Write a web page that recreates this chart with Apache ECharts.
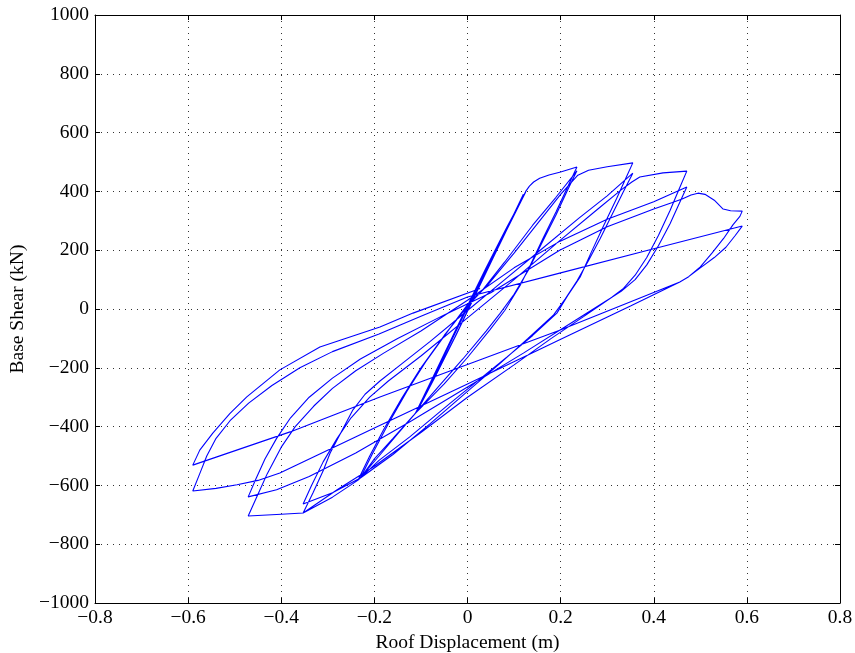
<!DOCTYPE html>
<html>
<head>
<meta charset="utf-8">
<script src="https://cdn.jsdelivr.net/npm/echarts@6/dist/echarts.min.js"></script>
<style>
html,body{margin:0;padding:0;background:#fff;}
#chart{width:855px;height:653px;}
</style>
</head>
<body>
<div id="chart"></div>
<script>
// Axis ticks
const xTicks = [-0.8, -0.6, -0.4, -0.2, 0, 0.2, 0.4, 0.6, 0.8];
const yTicks = [-1000, -800, -600, -400, -200, 0, 200, 400, 600, 800, 1000];

// Hysteresis path branches [roof displacement (m), base shear (kN)]
const initialLoading = [[0,0],[0.04,125],[0.08,255],[0.12,390]];
const smallCycles = [[0.07,225],[0.02,60],[-0.03,-105],[-0.07,-230],[-0.112,-355],
  [-0.06,-185],[-0.01,-20],[0.04,140],[0.085,280],[0.125,398],
  [0.075,240],[0.025,75],[-0.025,-90],[-0.07,-232],[-0.108,-348],
  [-0.055,-175],[0,5],[0.05,165],[0.09,290],[0.125,400]];
const envelope1 = [[0.133,418],[0.142,432],[0.155,445],[0.175,456],[0.2,466],[0.235,483]];
const lvl2c1Down = [[0.215,415],[0.19,330],[0.162,240],[0.135,150],[0.113,80],[0.08,-5],[0.048,-71],[0,-165],[-0.05,-255],[-0.112,-355],[-0.15,-425],[-0.19,-500],[-0.235,-582]];
const lvl2c1Up = [[-0.21,-500],[-0.18,-410],[-0.14,-300],[-0.1,-200],[-0.05,-90],[0,10],[0.03,60],[0.08,160],[0.14,285],[0.19,380],[0.235,470]];
const lvl2c2Down = [[0.215,405],[0.19,320],[0.16,225],[0.13,130],[0.1,50],[0.07,-15],[0.04,-75],[-0.01,-170],[-0.06,-260],[-0.115,-360],[-0.16,-440],[-0.2,-510],[-0.23,-575]];
const lvl2c2Up = [[-0.205,-495],[-0.17,-390],[-0.13,-280],[-0.09,-180],[-0.04,-70],[0,15],[0.04,75],[0.1,190],[0.16,310],[0.2,390],[0.237,455],[0.26,472],[0.3,484],[0.355,497]];
const lvl3c1Down = [[0.34,445],[0.32,375],[0.291,279],[0.265,190],[0.242,109],[0.215,45],[0.192,-14],[0.14,-90],[0.085,-163],[0.025,-240],[-0.037,-320],[-0.124,-435],[-0.19,-515],[-0.235,-582],[-0.29,-640],[-0.353,-694]];
const lvl3c1Up = [[-0.332,-626],[-0.31,-550],[-0.295,-490],[-0.27,-415],[-0.246,-343],[-0.22,-290],[-0.188,-245],[-0.14,-185],[-0.08,-110],[0,-5],[0.08,100],[0.16,205],[0.24,310],[0.3,385],[0.355,462]];
const lvl3c2Down = [[0.335,400],[0.31,320],[0.285,240],[0.26,165],[0.235,95],[0.21,35],[0.185,-20],[0.13,-100],[0.07,-185],[0,-280],[-0.08,-390],[-0.16,-495],[-0.23,-575],[-0.29,-625],[-0.353,-663]];
const lvl3c2Up = [[-0.335,-600],[-0.31,-520],[-0.28,-440],[-0.25,-370],[-0.21,-300],[-0.17,-245],[-0.1,-160],[0,-30],[0.1,100],[0.2,235],[0.28,340],[0.33,405],[0.353,432],[0.37,449],[0.42,463],[0.471,469]];
const lvl4c1Down = [[0.455,410],[0.435,335],[0.41,250],[0.385,175],[0.36,115],[0.335,70],[0.31,40],[0.25,-25],[0.18,-100],[0.1,-190],[0,-300],[-0.1,-420],[-0.2,-535],[-0.28,-615],[-0.353,-694],[-0.4,-698],[-0.471,-704]];
const lvl4c1Up = [[-0.45,-630],[-0.43,-560],[-0.4,-470],[-0.37,-400],[-0.33,-330],[-0.29,-270],[-0.24,-210],[-0.18,-150],[-0.1,-75],[0,30],[0.1,140],[0.198,230],[0.3,305],[0.4,365],[0.471,415]];
const lvl4c2Down = [[0.455,360],[0.435,290],[0.41,215],[0.385,150],[0.36,100],[0.33,60],[0.3,30],[0.22,-50],[0.12,-150],[0,-265],[-0.12,-380],[-0.24,-490],[-0.34,-570],[-0.41,-615],[-0.471,-639]];
const lvl4c2Up = [[-0.455,-580],[-0.435,-510],[-0.41,-440],[-0.38,-370],[-0.34,-300],[-0.29,-235],[-0.23,-170],[-0.15,-100],[-0.05,-20],[0.05,55],[0.198,200],[0.3,280],[0.4,340],[0.44,362],[0.461,374],[0.48,388],[0.495,394],[0.51,390],[0.53,370],[0.549,340],[0.565,334],[0.59,333]];
const lvl5c1Down = [[0.585,315],[0.57,286],[0.55,240],[0.525,190],[0.5,143],[0.475,110],[0.456,92],[0.35,10],[0.198,-105],[0,-255],[-0.2,-405],[-0.403,-558],[-0.45,-583],[-0.495,-598],[-0.54,-610],[-0.59,-619]];
const lvl5c1Up = [[-0.575,-560],[-0.56,-500],[-0.54,-440],[-0.51,-380],[-0.47,-320],[-0.42,-260],[-0.36,-200],[-0.29,-145],[-0.19,-85],[-0.1,-25],[0,41],[0.198,122],[0.4,205],[0.59,282]];
const lvl5c2Down = [[0.575,250],[0.555,210],[0.53,175],[0.5,140],[0.475,110],[0.456,92],[0.198,-72],[-0.188,-299],[-0.381,-418],[-0.59,-531]];
const lvl5c2Up = [[-0.575,-480],[-0.547,-422],[-0.51,-355],[-0.474,-299],[-0.403,-207],[-0.317,-129],[-0.188,-61],[-0.117,-14],[0.027,70]];

const hysteresis = [].concat(initialLoading, smallCycles, envelope1,
  lvl2c1Down, lvl2c1Up, lvl2c2Down, lvl2c2Up,
  lvl3c1Down, lvl3c1Up, lvl3c2Down, lvl3c2Up,
  lvl4c1Down, lvl4c1Up, lvl4c2Down, lvl4c2Up,
  lvl5c1Down, lvl5c1Up, lvl5c2Down, lvl5c2Up);

const FONT = 'Liberation Serif';
const FS = 19.5;
const fmt = v => {
  const r = Math.round(v * 10) / 10;
  return String(r).replace('-', '\u2212');
};
const gridLine = {show: true, lineStyle: {color: '#333', type: [1, 5], width: 1}};
const tickIn = {show: true, inside: true, length: 5, lineStyle: {color: '#000'}};

const chart = echarts.init(document.getElementById('chart'), null, {renderer: 'canvas'});
chart.setOption({
  animation: false,
  backgroundColor: '#fff',
  grid: {left: 95, right: 15, top: 15, bottom: 50, containLabel: false, outerBoundsMode: 'none'},
  xAxis: [{
    type: 'value', min: xTicks[0], max: xTicks[xTicks.length - 1], interval: 0.2,
    position: 'bottom',
    name: 'Roof Displacement (m)', nameLocation: 'middle', nameGap: 22,
    nameTextStyle: {fontFamily: FONT, fontSize: FS, color: '#000'},
    axisLine: {show: true, onZero: false, lineStyle: {color: '#000', width: 1}},
    axisTick: tickIn,
    axisLabel: {fontFamily: FONT, fontSize: FS, color: '#000', margin: 5, formatter: fmt},
    splitLine: gridLine
  }, {
    type: 'value', min: xTicks[0], max: xTicks[xTicks.length - 1], interval: 0.2,
    position: 'top',
    axisLine: {show: true, onZero: false, lineStyle: {color: '#000', width: 1}},
    axisTick: tickIn, axisLabel: {show: false}, splitLine: {show: false}
  }],
  yAxis: [{
    type: 'value', min: yTicks[0], max: yTicks[yTicks.length - 1], interval: 200,
    position: 'left',
    name: 'Base Shear (kN)', nameLocation: 'middle', nameGap: 64,
    nameTextStyle: {fontFamily: FONT, fontSize: FS, color: '#000'},
    axisLine: {show: true, onZero: false, lineStyle: {color: '#000', width: 1}},
    axisTick: tickIn,
    axisLabel: {fontFamily: FONT, fontSize: FS, color: '#000', margin: 6, formatter: fmt},
    splitLine: gridLine
  }, {
    type: 'value', min: yTicks[0], max: yTicks[yTicks.length - 1], interval: 200,
    position: 'right',
    axisLine: {show: true, onZero: false, lineStyle: {color: '#000', width: 1}},
    axisTick: tickIn, axisLabel: {show: false}, splitLine: {show: false}
  }],
  series: [{
    type: 'line',
    data: hysteresis,
    showSymbol: false,
    smooth: false,
    lineStyle: {color: '#0000ff', width: 1.1},
    z: 3
  }]
});
</script>
</body>
</html>
